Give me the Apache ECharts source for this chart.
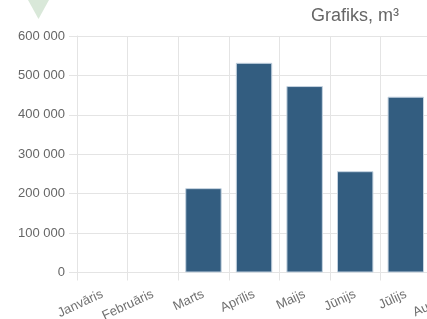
<!DOCTYPE html>
<html>
<head>
<meta charset="utf-8">
<script src="https://cdn.jsdelivr.net/npm/echarts@6/dist/echarts.min.js"></script>
<style>
  html, body { margin: 0; padding: 0; background: #fff; overflow: hidden; }
  /* grafiks ir platāks par logu, labā daļa ir nogriezta */
  #chart { width: 700px; height: 319px; }
</style>
</head>
<body>
<div id="chart"></div>
<script>
const months = ["Janvāris", "Februāris", "Marts", "Aprīlis", "Maijs", "Jūnijs", "Jūlijs", "Augusts", "Septembris", "Oktobris", "Novembris", "Decembris"];
const volumes = [null, null, 214000, 532000, 473000, 257000, 446000, null, null, null, null, null];
const yTicks = [0, 100000, 200000, 300000, 400000, 500000, 600000];

const gray = "#666";
const lineCol = "#e4e4e4";

function fmt(v) {
  return String(v).replace(/\B(?=(\d{3})+(?!\d))/g, " ");
}

const chart = echarts.init(document.getElementById("chart"));
chart.setOption({
  animation: false,
  textStyle: { fontFamily: "Liberation Sans, Arial, sans-serif" },
  title: {
    text: "Grafiks, m³",
    left: 306, top: 2,
    textStyle: { color: gray, fontSize: 18, fontWeight: "normal" },
  },
  graphic: [{
    type: "polygon",
    shape: { points: [[28, 0], [49, 0], [38.5, 19]] },
    style: { fill: "#d9e8d9" },
  }],
  grid: { left: 77, top: 36, bottom: 46.5, right: 16, containLabel: false, outerBoundsMode: "none" },
  xAxis: {
    type: "category",
    data: months,
    boundaryGap: true,
    axisLine: { lineStyle: { color: lineCol } },
    axisTick: { show: true, length: 8, lineStyle: { color: lineCol } },
    splitLine: { show: true, lineStyle: { color: lineCol } },
    axisLabel: { color: "#707070", fontSize: 13, rotate: 25, margin: 21, interval: 0 },
  },
  yAxis: {
    type: "value",
    min: yTicks[0],
    max: yTicks[yTicks.length - 1],
    interval: yTicks[1] - yTicks[0],
    axisLine: { show: true, lineStyle: { color: lineCol } },
    axisTick: { show: true, length: 8, lineStyle: { color: lineCol } },
    splitLine: { show: true, lineStyle: { color: lineCol } },
    axisLabel: { color: gray, fontSize: 13, margin: 12, formatter: fmt },
  },
  series: [{
    type: "bar",
    data: volumes,
    barCategoryGap: "28%",
    itemStyle: { color: "#335d80", borderColor: "#c5d3e0", borderWidth: 1 },
  }],
});
</script>
</body>
</html>
